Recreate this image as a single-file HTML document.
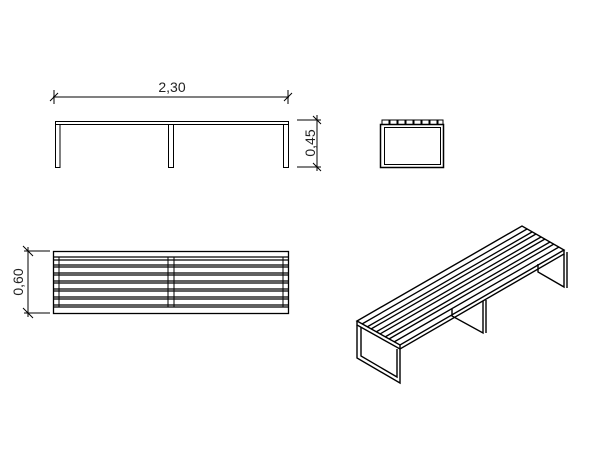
<!DOCTYPE html>
<html><head><style>body{margin:0;background:#fff}svg{display:block}</style></head><body>
<svg width="600" height="463" viewBox="0 0 600 463" xmlns="http://www.w3.org/2000/svg" font-family="Liberation Sans, sans-serif">
<g stroke="#000" stroke-width="1" fill="none">
<!-- elevation -->
<line x1="53" y1="97" x2="289" y2="97"/>
<line x1="54" y1="90" x2="54" y2="104"/><line x1="288" y1="90" x2="288" y2="104"/>
<line x1="50" y1="101" x2="58" y2="93"/><line x1="284" y1="101" x2="292" y2="93"/>
<rect x="55.5" y="121.5" width="233" height="3"/>
<rect x="55.5" y="124.5" width="4.5" height="43"/>
<rect x="168.5" y="124.5" width="5" height="43"/>
<rect x="283.5" y="124.5" width="5" height="43"/>
<line x1="297" y1="120" x2="321" y2="120"/><line x1="297" y1="167" x2="321" y2="167"/>
<line x1="317" y1="115" x2="317" y2="171"/>
<line x1="313" y1="116" x2="321" y2="124"/><line x1="313" y1="163" x2="321" y2="171"/>
<!-- side -->
<rect x="380.5" y="124.5" width="63" height="43" stroke-width="1.5"/>
<rect x="384.5" y="127.5" width="56" height="37"/>
<path d="M382 124v-4h7v4M390 124v-4h7v4M398 124v-4h7v4M406 124v-4h7v4M414 124v-4h7v4M422 124v-4h7v4M430 124v-4h7v4M438 124v-4h5v4"/>
<!-- plan -->
<rect x="53.5" y="251.5" width="235" height="62" stroke-width="1.3"/>
<g stroke-width="1.2">
<line x1="54" y1="257" x2="288" y2="257"/><line x1="54" y1="260" x2="288" y2="260"/>
<line x1="54" y1="265" x2="288" y2="265"/><line x1="54" y1="267" x2="288" y2="267"/>
<line x1="54" y1="273" x2="288" y2="273"/><line x1="54" y1="275" x2="288" y2="275"/>
<line x1="54" y1="281" x2="288" y2="281"/><line x1="54" y1="283" x2="288" y2="283"/>
<line x1="54" y1="289" x2="288" y2="289"/><line x1="54" y1="291" x2="288" y2="291"/>
<line x1="54" y1="297" x2="288" y2="297"/><line x1="54" y1="299" x2="288" y2="299"/>
<line x1="54" y1="305" x2="288" y2="305"/><line x1="54" y1="307" x2="288" y2="307"/>
</g>
<line x1="168" y1="257" x2="168" y2="307"/><line x1="174" y1="257" x2="174" y2="307"/>
<line x1="59" y1="257" x2="59" y2="307"/><line x1="283" y1="257" x2="283" y2="307"/>
<line x1="24" y1="251" x2="50" y2="251"/><line x1="24" y1="313" x2="50" y2="313"/>
<line x1="28" y1="247" x2="28" y2="317"/>
<line x1="23" y1="246" x2="33" y2="256"/><line x1="23" y1="308" x2="33" y2="318"/>
<!-- iso -->
<g stroke-width="1.4">
<path d="M357 321 L400 345 L564 250 L522 226 Z" fill="#fff"/>
<path d="M357 321 v4 L400 349 L564 254 v-4"/>
<line x1="400" y1="345" x2="400" y2="349"/>
<path d="M357 325 v33 L400 383 v-34"/>
<path d="M361 327 v29 L397 377 v-28"/>
<path d="M483 301 v32 L452 316 v-7"/>
<line x1="486" y1="300" x2="486" y2="333"/>
<path d="M564 254 v33 L538 272 v-8"/>
<line x1="567" y1="252" x2="567" y2="288"/>
</g>
<g stroke-width="1.3">
<line x1="362" y1="324" x2="527" y2="229"/>
<line x1="367" y1="327" x2="532" y2="232"/>
<line x1="371" y1="329" x2="536" y2="234"/>
<line x1="376" y1="332" x2="541" y2="237"/>
<line x1="380" y1="334" x2="545" y2="239"/>
<line x1="385" y1="337" x2="550" y2="242"/>
<line x1="389" y1="339" x2="554" y2="244"/>
<line x1="394" y1="342" x2="559" y2="247"/>
</g>
</g>
<g fill="#222" font-size="14">
<text x="172" y="92" text-anchor="middle">2,30</text>
<text transform="translate(315,143) rotate(-90)" text-anchor="middle">0,45</text>
<text transform="translate(23,282) rotate(-90)" text-anchor="middle">0,60</text>
</g>
</svg>
</body></html>
